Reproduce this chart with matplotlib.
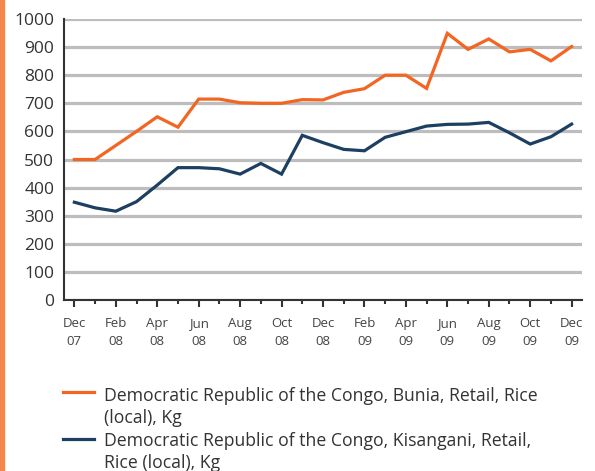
import matplotlib
matplotlib.use("Agg")
import matplotlib.pyplot as plt
from matplotlib.lines import Line2D
from matplotlib.patches import Rectangle
from matplotlib.ticker import MultipleLocator

plt.rcParams['font.family'] = ['Open Sans', 'DejaVu Sans']

months = ["Dec 07", "Jan 08", "Feb 08", "Mar 08", "Apr 08", "May 08", "Jun 08", "Jul 08",
          "Aug 08", "Sep 08", "Oct 08", "Nov 08", "Dec 08", "Jan 09", "Feb 09", "Mar 09",
          "Apr 09", "May 09", "Jun 09", "Jul 09", "Aug 09", "Sep 09", "Oct 09", "Nov 09", "Dec 09"]
bunia = [500, 500, 550, 600, 652, 615, 715, 715, 702, 700, 700, 713, 712, 739, 752, 800,
         800, 753, 949, 892, 929, 883, 892, 851, 902]
kisangani = [348, 328, 316, 350, 409, 471, 471, 467, 448, 486, 448, 586, 560, 536, 531, 579,
             599, 619, 625, 626, 632, 595, 555, 581, 626]
labels = [["Democratic Republic of the Congo, Bunia, Retail, Rice", "(local), Kg"],
          ["Democratic Republic of the Congo, Kisangani, Retail,", "Rice (local), Kg"]]
colors = ["#F26522", "#1D3F62"]
yticks = [0, 100, 200, 300, 400, 500, 600, 700, 800, 900, 1000]

W, H = 595, 471
fig = plt.figure(figsize=(W / 100, H / 100), dpi=100)
ax = fig.add_axes([64 / W, (H - 300) / H, (582 - 64) / W, (300 - 19) / H])

x = list(range(len(months)))
for series, c in zip([bunia, kisangani], colors):
    ax.plot(x, series, color=c, lw=2.3, solid_joinstyle='miter', zorder=3)

ax.set_xlim(-0.5, 24.5)
ax.set_ylim(0, 1000)
ax.set_yticks(yticks)
ax.set_yticklabels([str(v) for v in yticks])
ax.grid(axis='y', color='#BDBDBD', lw=2.3, zorder=1)
ax.set_axisbelow(True)

major = x[::2]
ax.set_xticks(major)
ax.set_xticklabels([m.replace(" ", "\n") for m in months[::2]], linespacing=1.55)
ax.xaxis.set_minor_locator(MultipleLocator(1))

for s in ['top', 'right']:
    ax.spines[s].set_visible(False)
for s in ['left', 'bottom']:
    ax.spines[s].set_color('#333333')
    ax.spines[s].set_linewidth(1.5)

ax.tick_params(axis='y', length=0, pad=7, labelsize=12.5, labelcolor='#333333')
ax.tick_params(axis='x', which='major', length=5, width=1.5, color='#333333',
               pad=7, labelsize=9.5, labelcolor='#444444')
ax.tick_params(axis='x', which='minor', length=3, width=1.5, color='#333333')

# Left orange border
fig.add_artist(Rectangle((0, 0), 4 / W, 1, transform=fig.transFigure,
                         color='#F4874B', zorder=0))

# Legend (manual, handle aligned to first text line)
handle_y = [392, 439]
base_y = [[401, 423], [446, 468]]
for lab, c, hy, bys in zip(labels, colors, handle_y, base_y):
    fig.add_artist(Line2D([63 / W, 94 / W], [(H - hy) / H] * 2, color=c, lw=2.3,
                          transform=fig.transFigure))
    for line, by in zip(lab, bys):
        fig.text(104 / W, (H - by) / H, line, ha='left', va='baseline', fontsize=12.7,
                 color='#333333')

fig.savefig("out.png", dpi=100)
